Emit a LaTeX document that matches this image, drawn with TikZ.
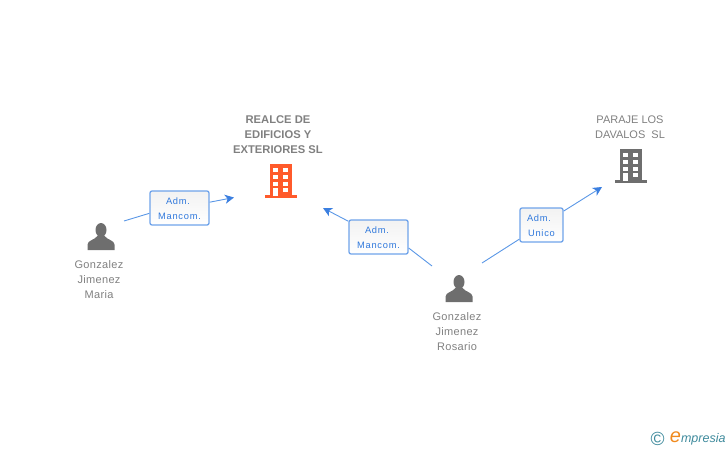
\documentclass[tikz,border=0pt]{standalone}
\usepackage{fontspec}
\setmainfont{Liberation Sans}
\newfontfamily\boxfont[LetterSpace=8]{Liberation Sans}
\newfontfamily\namefont[LetterSpace=3]{Liberation Sans}
\usetikzlibrary{positioning}
\usetikzlibrary{arrows.meta}
\definecolor{linkblue}{HTML}{5A97E6}
\definecolor{tipblue}{HTML}{3B7FE0}
\definecolor{boxblue}{HTML}{6FA3EA}
\definecolor{textblue}{HTML}{2F78DC}
\definecolor{namegrey}{HTML}{808080}
\definecolor{icongrey}{HTML}{6E6E6E}
\definecolor{redbuilding}{HTML}{FF5A2B}
\definecolor{logoteal}{HTML}{3E8A9C}
\definecolor{logoorange}{HTML}{F08A1E}
\tikzset{
	namelabel/.style={text=namegrey, align=center, inner sep=0pt, font=\namefont\fontsize{11}{15}\selectfont},
	rolebox/.style={draw=boxblue, line width=1.3pt, rounded corners=2pt, top color=gray!10, bottom color=white, text=textblue, align=center, inner sep=0pt, minimum height=34pt, text depth=1pt, font=\boxfont\fontsize{9.3}{15}\selectfont},
	roletext/.style={text=textblue, inner sep=0pt, align=center, font=\boxfont\fontsize{9.3}{15}\selectfont},
	link/.style={draw=linkblue, line width=0.9pt},
	linkarrow/.style={link, -{Stealth[length=9pt, width=9pt, inset=2.5pt, color=tipblue]}},
	person/.pic={
		\fill[icongrey] (0,-6.5) ellipse (5.5 and 7);
		\fill[icongrey] (-13.5,13.5) -- (-13.5,8) .. controls (-13,3.5) and (-7,4) .. (-3,-1) -- (3,-1) .. controls (7,4) and (13,3.5) .. (13.5,8) -- (13.5,13.5) -- cycle;
	},
}
\newcommand{\building}[2]{%
	\fill[#2] (#1) ++(-11,-16) rectangle ++(22,32);
	\fill[#2] (#1) ++(-16,15) rectangle ++(32,3);
	\foreach \wy in {-11.7,-5,1.7}{
		\fill[white] (#1) ++(-7.7,\wy) rectangle ++(5,4);
		\fill[white] (#1) ++(2.3,\wy) rectangle ++(5,4);
	}
	\fill[white] (#1) ++(-7.7,8) rectangle ++(5,8);
	\fill[white] (#1) ++(2.3,7.5) rectangle ++(5,4);
}

\begin{document}
\begin{tikzpicture}[x=1pt, y=-1pt]
	\useasboundingbox (0,0) rectangle (728,450);
	% people
	\coordinate (maria) at (101,236.5);
	\coordinate (rosario) at (459,288.5);
	\pic at (maria) {person};
	\pic at (rosario) {person};
	\node[namelabel, below=24pt of maria, xshift=-2pt, anchor=north] (marianame) {Gonzalez\\Jimenez\\Maria};
	\node[namelabel, below=24pt of rosario, xshift=-2pt, anchor=north] (rosarioname) {Gonzalez\\Jimenez\\Rosario};
	% companies
	\coordinate (realce) at (281,180);
	\coordinate (paraje) at (631,165);
	\building{realce}{redbuilding}
	\building{paraje}{icongrey}
	\node[namelabel, font=\bfseries\fontsize{11.2}{15}\selectfont] (realcename) at (278,134.5) {REALCE DE\\EDIFICIOS Y\\EXTERIORES SL};
	\node[namelabel, font=\fontsize{11}{15}\selectfont] (parajename) at (630,127.5) {PARAJE LOS\\DAVALOS\ \ SL};
	% roles
	\node[rolebox, minimum width=59pt] (roleone) at (179.5,208) {};
	\node[rolebox, minimum width=59pt] (roletwo) at (378.5,237) {};
	\node[rolebox, minimum width=43pt] (rolethree) at (541.5,225) {};
	\node[roletext] at (179.5,209) {Adm.\hspace*{3pt}\\Mancom.};
	\node[roletext] at (378.5,238) {Adm.\hspace*{3pt}\\Mancom.};
	\node[roletext] at (541.5,226) {Adm.\hspace*{5pt}\\Unico};
	% link ends
	\coordinate (mariaout) at (124,221);
	\coordinate (realceleft) at (234,197.5);
	\coordinate (realceright) at (323,208);
	\coordinate (rosarioleft) at (432,266);
	\coordinate (rosarioright) at (482,263);
	\coordinate (parajein) at (602,187);
	\path[link] (mariaout) -- (roleone.190);
	\path[linkarrow] (roleone) -- (realceleft);
	\path[link] (rosarioleft) -- (roletwo.-20);
	\path[linkarrow] (roletwo) -- (realceright);
	\path[link] (rosarioright) -- (rolethree);
	\path[linkarrow] (rolethree) -- (parajein);
	% logo
	\node[text=logoteal, inner sep=0pt, font=\fontsize{19}{19}\selectfont] (copyright) at (657.5,438.5) {©};
	\node[right=5pt of copyright, inner sep=0pt, text=logoteal, font=\itshape\fontsize{12.5}{12}\selectfont] (logo) {{\color{logoorange}\fontsize{20}{12}\selectfont e}mpresia};
\end{tikzpicture}
\end{document}
